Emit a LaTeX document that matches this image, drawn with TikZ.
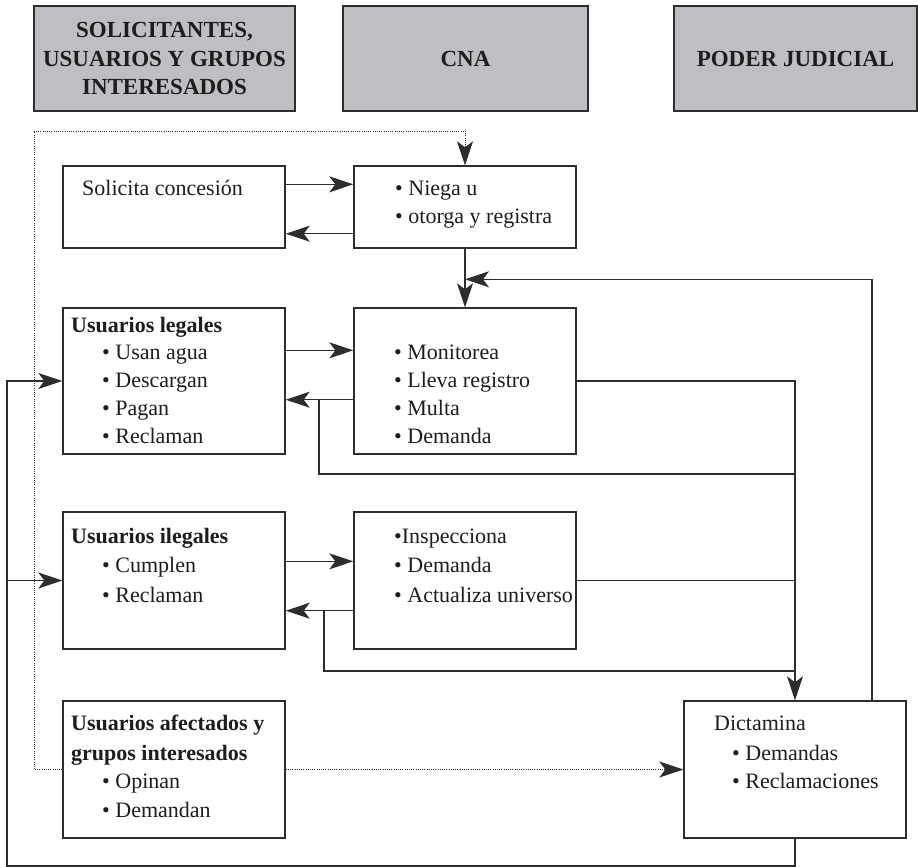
\documentclass[tikz,border=0pt]{standalone}
\usepackage{fontspec}
\setmainfont{Liberation Serif}
\usetikzlibrary{arrows.meta,calc}
\definecolor{hdr}{RGB}{190,191,195}
\definecolor{ln}{RGB}{45,45,45}
\definecolor{ink}{RGB}{30,28,28}
\begin{document}
\begin{tikzpicture}[x=1pt,y=-1pt,
  box/.style={draw=ln, line width=1.4pt, minimum width=222pt, inner sep=0pt},
  hbox/.style={draw=ln, line width=1.4pt, fill=hdr, inner sep=0pt, align=center,
    minimum height=105pt, text=ink, font=\fontsize{23}{28.5}\selectfont\bfseries},
  txt/.style={anchor=base west, inner sep=0pt, text=ink, font=\fontsize{22}{28}\selectfont},
  btxt/.style={txt, font=\fontsize{22}{28}\selectfont\bfseries},
  conn/.style={draw=ln, line width=1.3pt},
  tip/.style={-{Stealth[length=24pt,width=16pt,inset=6pt]}},
  arr/.style={conn, tip},
  dots/.style={draw=ln, line width=1pt, dash pattern=on 1pt off 1.2pt}
]
\useasboundingbox (0,0) rectangle (918,867);

% header boxes
\node[hbox, minimum width=261pt] (h1) at (164.5,58.5) {SOLICITANTES,\\USUARIOS Y GRUPOS\\INTERESADOS};
\node[hbox, minimum width=245pt] (h2) at (465.5,58.5) {CNA};
\node[hbox, minimum width=243pt] (h3) at (795.5,58.5) {PODER JUDICIAL};

% boxes
\node[box, minimum height=82pt] (sol) at (174,207) {};
\node[box, minimum height=82pt] (neg) at (465,207) {};
\node[box, minimum height=146pt] (leg) at (174,381) {};
\node[box, minimum height=146pt] (mon) at (465,381) {};
\node[box, minimum height=137pt] (ile) at (174,580.5) {};
\node[box, minimum height=137pt] (ins) at (465,580.5) {};
\node[box, minimum height=137pt] (afe) at (174,769.5) {};
\node[box, minimum height=137pt] (dic) at (795,769.5) {};

% texts
\node[txt] (t1) at (82,195) {Solicita concesión};
\node[txt] (t2) at (395,195) {• Niega u};
\node[txt] (t3) at (395,223) {• otorga y registra};

\node[btxt] (t4) at (71,332) {Usuarios legales};
\node[txt] (t5) at (102,359) {• Usan agua};
\node[txt] (t6) at (102,387) {• Descargan};
\node[txt] (t7) at (102,415) {• Pagan};
\node[txt] (t8) at (102,443) {• Reclaman};

\node[txt] (t9) at (394,359) {• Monitorea};
\node[txt] (t10) at (394,387) {• Lleva registro};
\node[txt] (t11) at (394,415) {• Multa};
\node[txt] (t12) at (394,443) {• Demanda};

\node[btxt] (t13) at (71,543) {Usuarios ilegales};
\node[txt] (t14) at (102,572) {• Cumplen};
\node[txt] (t15) at (102,602) {• Reclaman};

\node[txt] (t16) at (394,543) {•Inspecciona};
\node[txt] (t17) at (394,572) {• Demanda};
\node[txt] (t18) at (394,602) {• Actualiza universo};

\node[btxt] (t19) at (71,730) {Usuarios afectados y};
\node[btxt] (t20) at (71,760) {grupos interesados};
\node[txt] (t21) at (102,788) {• Opinan};
\node[txt] (t22) at (102,817) {• Demandan};

\node[txt] (t23) at (714,730) {Dictamina};
\node[txt] (t24) at (732,760) {• Demandas};
\node[txt] (t25) at (732,788) {• Reclamaciones};

% coordinates
\coordinate (dl) at (34,131);
\coordinate (bl) at (7,866);
\coordinate (j1) at (319,399);
\coordinate (j1b) at (319,474);
\coordinate (j2) at (324,610);
\coordinate (j2b) at (324,671);

% connectors
\draw[arr] ([yshift=-19pt]sol.north east) -- ([yshift=-19pt]neg.north west);
\draw[arr] ([yshift=15pt]neg.south west) -- ([yshift=15pt]sol.south east);
\draw[arr] (neg.south) -- (mon.north);
\draw[arr] ([xshift=77pt]dic.north) |- ([yshift=28pt]mon.north);

\draw[arr] ([yshift=-43pt]leg.north east) -- ([yshift=-43pt]mon.north west);
\draw[arr] ([yshift=55pt]mon.south west) -- ([yshift=55pt]leg.south east);
\draw[conn] (j1) |- (dic.north |- j1b);
\draw[arr] (mon.east) -| (dic.north);

\draw[arr] ([yshift=-50pt]ile.north east) -- ([yshift=-50pt]ins.north west);
\draw[arr] ([yshift=39pt]ins.south west) -- ([yshift=39pt]ile.south east);
\draw[conn] (j2) |- (dic.north |- j2b);
\draw[conn] (ins.east) -- (ins.east -| dic.north);

\draw[arr] (dic.south) |- (bl) |- (leg.west);
\draw[arr] (bl |- ile.west) -- (ile.west);

\draw[dots, tip] (afe.west) -| (dl) -| (neg.north);
\draw[dots, tip] (afe.east) -- (dic.west);
\end{tikzpicture}
\end{document}
